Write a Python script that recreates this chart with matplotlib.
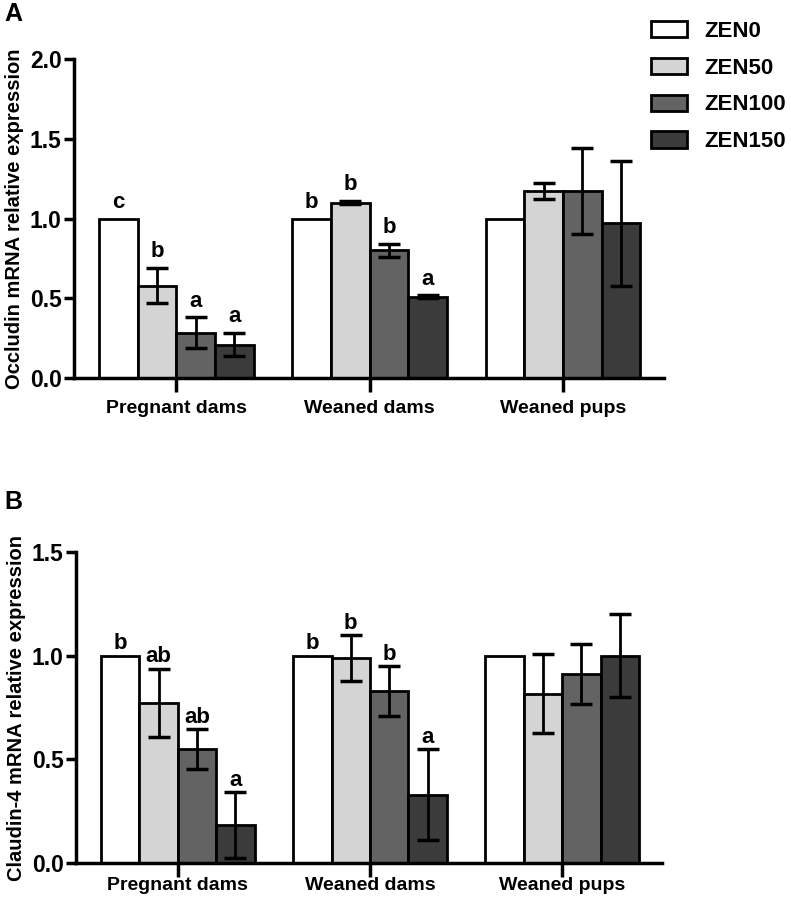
import numpy as np
import matplotlib.pyplot as plt
from matplotlib.patches import Patch

plt.rcParams['font.family'] = ['Liberation Sans', 'DejaVu Sans']
plt.rcParams['font.weight'] = 'bold'

groups = ['Pregnant dams', 'Weaned dams', 'Weaned pups']
series = ['ZEN0', 'ZEN50', 'ZEN100', 'ZEN150']
colors = ['#ffffff', '#d4d4d4', '#636363', '#3b3b3b']

# panel A: occludin
occ_mean = [[1.00, 1.00, 1.00],
            [0.58, 1.10, 1.17],
            [0.285, 0.80, 1.17],
            [0.21, 0.51, 0.97]]
occ_err = [[0, 0, 0],
           [0.11, 0.01, 0.05],
           [0.095, 0.04, 0.27],
           [0.075, 0.01, 0.39]]
occ_letters = [['c', 'b', ''],
               ['b', 'b', ''],
               ['a', 'b', ''],
               ['a', 'a', '']]

# panel B: claudin-4
cld_mean = [[1.00, 1.00, 1.00],
            [0.772, 0.99, 0.817],
            [0.55, 0.83, 0.91],
            [0.183, 0.33, 1.00]]
cld_err = [[0, 0, 0],
           [0.165, 0.11, 0.19],
           [0.095, 0.12, 0.145],
           [0.16, 0.22, 0.20]]
cld_letters = [['b', 'b', ''],
               ['ab', 'b', ''],
               ['ab', 'b', ''],
               ['a', 'a', '']]

fig = plt.figure(figsize=(7.91, 8.99), dpi=100)
axA = fig.add_axes([0.0936, 0.5795, 0.7454, 0.3549])
axB = fig.add_axes([0.0961, 0.0400, 0.7408, 0.3460])

w = 0.2
x = np.arange(len(groups))


def draw_panel(ax, means, errs, letters, ymax, yticks, ylabel, pad, xpad):
    for i in range(len(series)):
        pos = x + (i - 1.5) * w
        ax.bar(pos, means[i], width=w, color=colors[i], edgecolor='black',
               linewidth=2.0, zorder=2)
        e = np.array(errs[i])
        m = np.array(means[i])
        mask = e > 0
        ax.errorbar(pos[mask], m[mask], yerr=e[mask], fmt='none', ecolor='black',
                    elinewidth=2.0, capsize=8, capthick=2.5, zorder=3)
        for j in range(len(groups)):
            if letters[i][j]:
                ax.annotate(letters[i][j], (pos[j], means[i][j] + errs[i][j]),
                            xytext=(0, pad), textcoords='offset points',
                            ha='center', va='bottom', fontsize=16, fontweight='bold')
    ax.set_xlim(-0.53, 2.52)
    ax.set_ylim(0, ymax)
    ax.set_yticks(yticks)
    ax.set_yticklabels(['%.1f' % t for t in yticks], fontsize=16.5, fontweight='bold')
    ax.set_xticks(x)
    ax.set_xticklabels(groups, fontsize=14, fontweight='bold')
    ax.set_ylabel(ylabel, fontsize=14.5, fontweight='bold', labelpad=4)
    for s in ['top', 'right']:
        ax.spines[s].set_visible(False)
    for s in ['left', 'bottom']:
        ax.spines[s].set_linewidth(2.5)
    ax.tick_params(axis='y', direction='out', length=7, width=2.5, pad=2)
    ax.tick_params(axis='x', direction='out', length=10, width=2.5, pad=xpad)


draw_panel(axA, occ_mean, occ_err, occ_letters, 2.0, [0.0, 0.5, 1.0, 1.5, 2.0],
           'Occludin mRNA relative expression', 4, 6)
draw_panel(axB, cld_mean, cld_err, cld_letters, 1.5, [0.0, 0.5, 1.0, 1.5],
           'Claudin-4 mRNA relative expression', 1, 0)

fig.text(0.006, 0.984, 'A', fontsize=18, fontweight='bold', va='center')
fig.text(0.006, 0.442, 'B', fontsize=18, fontweight='bold', va='center')

handles = [Patch(facecolor=c, edgecolor='black', linewidth=2.0) for c in colors]
fig.legend(handles, series, loc='upper left', bbox_to_anchor=(0.798, 0.999),
           frameon=False, handlelength=1.6, handleheight=0.75,
           labelspacing=0.71, handletextpad=0.8, prop={'weight': 'bold', 'size': 16})

fig.savefig('out.png', dpi=100)
